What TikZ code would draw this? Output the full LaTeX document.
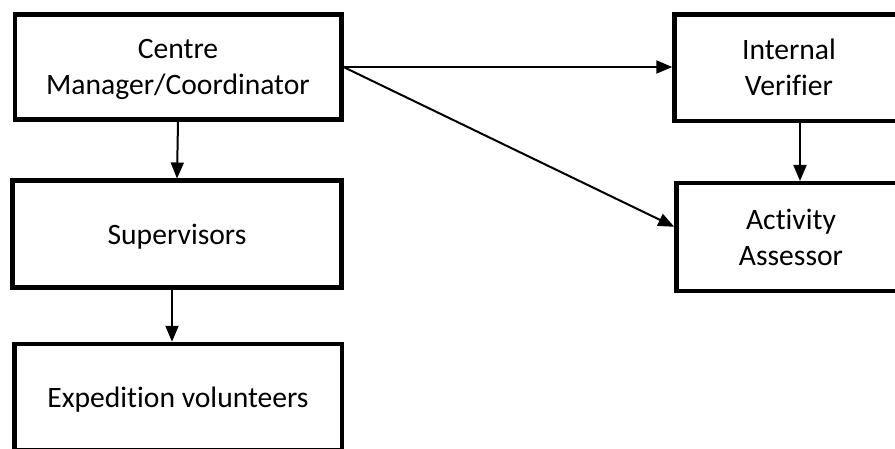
\documentclass[tikz,border=0pt]{standalone}
\usepackage{fontspec}
\setmainfont{Carlito}[Ligatures=NoCommon]
\usetikzlibrary{arrows.meta}

\begin{document}
\begin{tikzpicture}[x=0.5pt, y=-0.5pt,
    role/.style={draw, line width=2.25pt, align=center, inner sep=0pt,
        text depth=0pt, font=\fontsize{14.8pt}{18pt}\selectfont},
    arr/.style={line width=1pt, -{Triangle[length=8pt, width=6.5pt]}}]
    \clip (0, 0) rectangle (895, 449);

    \node [role, minimum width=163.25pt, minimum height=52.5pt] (centre) at (178, 67)
        {Centre\\Manager/Coordinator};
    \node [role, minimum width=164.5pt, minimum height=53.25pt] (sup) at (177, 234)
        {Supervisors};
    \node [role, minimum width=163.75pt, minimum height=53pt] (exp) at (178, 397)
        {Expedition volunteers};
    \node [role, minimum width=114.5pt, minimum height=53.3pt] (iv) at (789, 67.7)
        {Internal\\Verifier};
    \node [role, minimum width=114.5pt, minimum height=53.75pt] (aa) at (791, 237)
        {Activity\\Assessor};

    \draw [arr] (centre.south) -- (sup.north);
    \draw [arr] ([xshift=-2.5pt]sup.south) -- ([xshift=-2.5pt]sup.south |- exp.north);
    \draw [arr] (centre.east) -- (centre.east -| iv.west);
    \draw [arr] (centre.east) -- (aa.175);
    \draw [arr] ([xshift=5.5pt]iv.south) -- ([xshift=5.5pt]iv.south |- aa.north);

\end{tikzpicture}
\end{document}
